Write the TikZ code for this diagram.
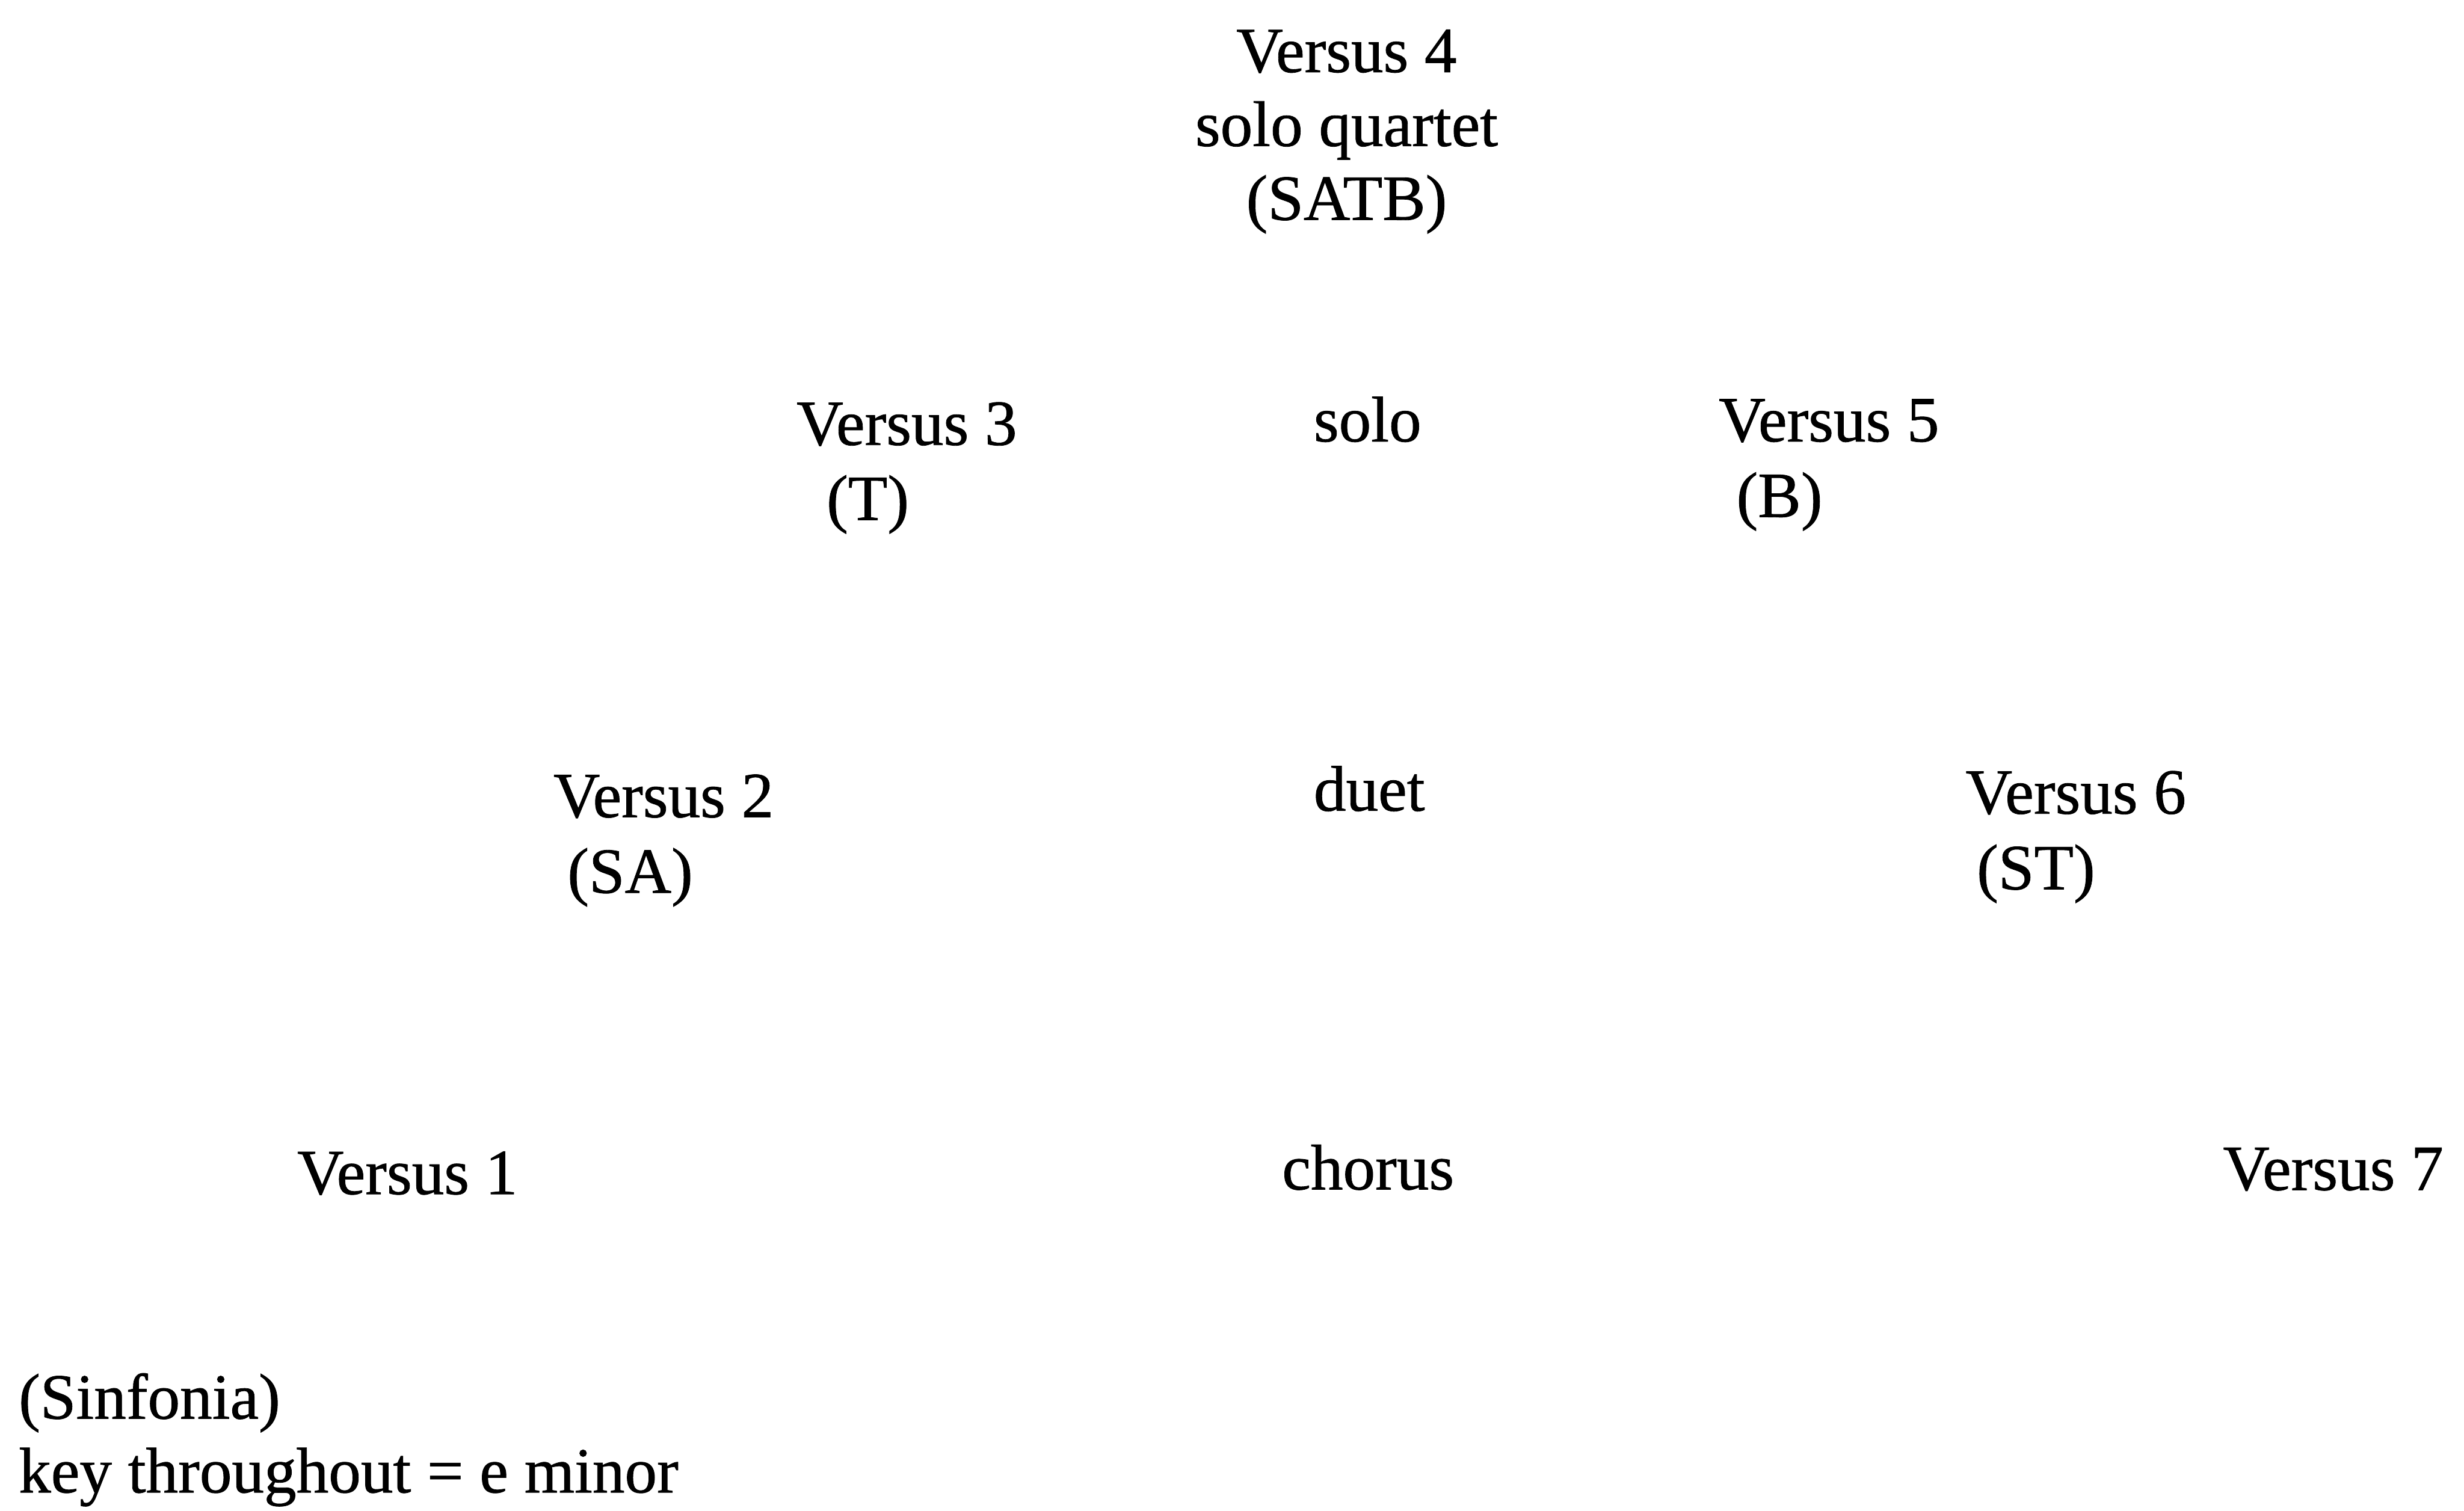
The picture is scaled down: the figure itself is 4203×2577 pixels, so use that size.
\documentclass[tikz,border=0pt]{standalone}
\usepackage{fontspec}
\setmainfont[FakeBold=0.8]{Liberation Serif}
\begin{document}
\begin{tikzpicture}[x=0.5pt,y=-0.5pt,
  lbl/.style={inner sep=0pt,outer sep=0pt,anchor=base west,font=\fontsize{55pt}{63.5pt}\selectfont},
  clbl/.style={lbl,anchor=base}]
\useasboundingbox[fill=white] (0,0) rectangle (4203,2577);
% top block
\node[clbl] (v4)  at (2297,123) {Versus 4};
\node[clbl] (v4b) at (2297,249) {solo quartet};
\node[clbl] (v4c) at (2297,375) {(SATB)};
% row solo
\node[lbl] (v3)  at (1359,759) {Versus 3};
\node[lbl] (v3b) at (1410,887) {(T)};
\node[lbl] (solo) at (2241,753) {solo};
\node[lbl] (v5)  at (2932,753) {Versus 5};
\node[lbl] (v5b) at (2962,882) {(B)};
% row duet
\node[lbl] (v2)  at (944,1394) {Versus 2};
\node[lbl] (v2b) at (968,1523) {(SA)};
\node[lbl] (duet) at (2241,1383) {duet};
\node[lbl] (v6)  at (3353,1388) {Versus 6};
\node[lbl] (v6b) at (3372,1517) {(ST)};
% row chorus
\node[lbl] (v1)  at (507,2037) {Versus 1};
\node[lbl] (chorus) at (2187,2029) {chorus};
\node[lbl] (v7)  at (3792,2030) {Versus 7};
% footer
\node[lbl] (sinf) at (32,2420) {(Sinfonia)};
\node[lbl] (key)  at (32,2546) {key throughout = e minor};
\end{tikzpicture}
\end{document}
